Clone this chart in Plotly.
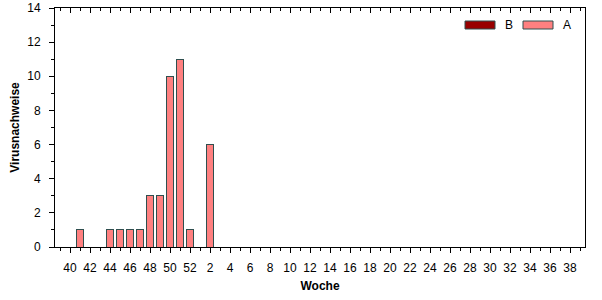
import plotly.graph_objects as go

weeks = [39, 40, 41, 42, 43, 44, 45, 46, 47, 48, 49, 50, 51, 52] + list(range(1, 40))
values_a = [0, 0, 1, 0, 0, 1, 1, 1, 1, 3, 3, 10, 11, 1, 0, 6] + [0] * 37
values_b = [0] * len(weeks)
y_ticks = [0, 2, 4, 6, 8, 10, 12, 14]

idx = list(range(len(weeks)))
major_idx = [i for i, w in zip(idx, weeks) if w % 2 == 0]
minor_idx = [i for i, w in zip(idx, weeks) if w % 2 == 1]
major_txt = [str(weeks[i]) for i in major_idx]

col_a = "#FF8080"
col_b = "#990000"
edge = "#2F4F4F"
font = "Liberation Sans, Arial, sans-serif"

fig = go.Figure()
fig.add_trace(go.Bar(x=idx, y=values_b, name="B", xaxis="x2",
                     marker=dict(color=col_b, line=dict(color=edge, width=1)),
                     width=0.7, showlegend=False))
fig.add_trace(go.Bar(x=idx, y=values_a, name="A",
                     marker=dict(color=col_a, line=dict(color=edge, width=1)),
                     width=0.7, showlegend=False))

xr = [-0.5, len(weeks) - 0.5]
fig.update_layout(
    width=602, height=300,
    margin=dict(l=55, r=17, t=8, b=53, autoexpand=False),
    paper_bgcolor="white", plot_bgcolor="white",
    barmode="stack",
    font=dict(family=font, size=12, color="black"),
    xaxis=dict(range=xr, showgrid=False, zeroline=False, showline=True, linecolor="black", linewidth=1,
               automargin=False,
               tickmode="array", tickvals=major_idx, ticktext=major_txt, ticks="outside", ticklen=5,
               tickcolor="black", ticklabelstandoff=5,
               minor=dict(tickmode="array", tickvals=minor_idx, ticks="outside", ticklen=3, tickcolor="black"),
               title=dict(text="<b>Woche</b>", font=dict(size=12), standoff=7)),
    xaxis2=dict(range=xr, overlaying="x", side="top", anchor="y", showgrid=False, zeroline=False,
                automargin=False,
                showline=True, linecolor="black", linewidth=1, showticklabels=False,
                tickmode="array", tickvals=major_idx, ticks="inside", ticklen=5, tickcolor="black",
                minor=dict(tickmode="array", tickvals=minor_idx, ticks="inside", ticklen=3, tickcolor="black")),
    yaxis=dict(range=[0, 14], showgrid=False, zeroline=False, showline=True, linecolor="black", linewidth=1,
               automargin=False,
               mirror=True, tickmode="array", tickvals=y_ticks, ticks="outside", ticklen=5, tickcolor="black",
               ticklabelstandoff=6,
               minor=dict(dtick=1, ticks="outside", ticklen=3, tickcolor="black"),
               title=dict(text="<b>Virusnachweise</b>", font=dict(size=12), standoff=5)),
)

def px_to_paper_x(px):
    return (px - 55) / 530

def px_to_paper_y(py):
    return (247 - py) / 239

legend_items = [("B", col_b, 465), ("A", col_a, 523)]
for name, col, x0 in legend_items:
    fig.add_shape(type="rect", xref="paper", yref="paper",
                  x0=px_to_paper_x(x0), x1=px_to_paper_x(x0 + 30),
                  y0=px_to_paper_y(29), y1=px_to_paper_y(21),
                  fillcolor=col, line=dict(color=edge, width=1))
    fig.add_annotation(xref="paper", yref="paper", x=px_to_paper_x(x0 + 38), y=px_to_paper_y(25),
                       text=name, showarrow=False, xanchor="left", yanchor="middle",
                       font=dict(size=12, family=font))

fig.write_html("out.html")
